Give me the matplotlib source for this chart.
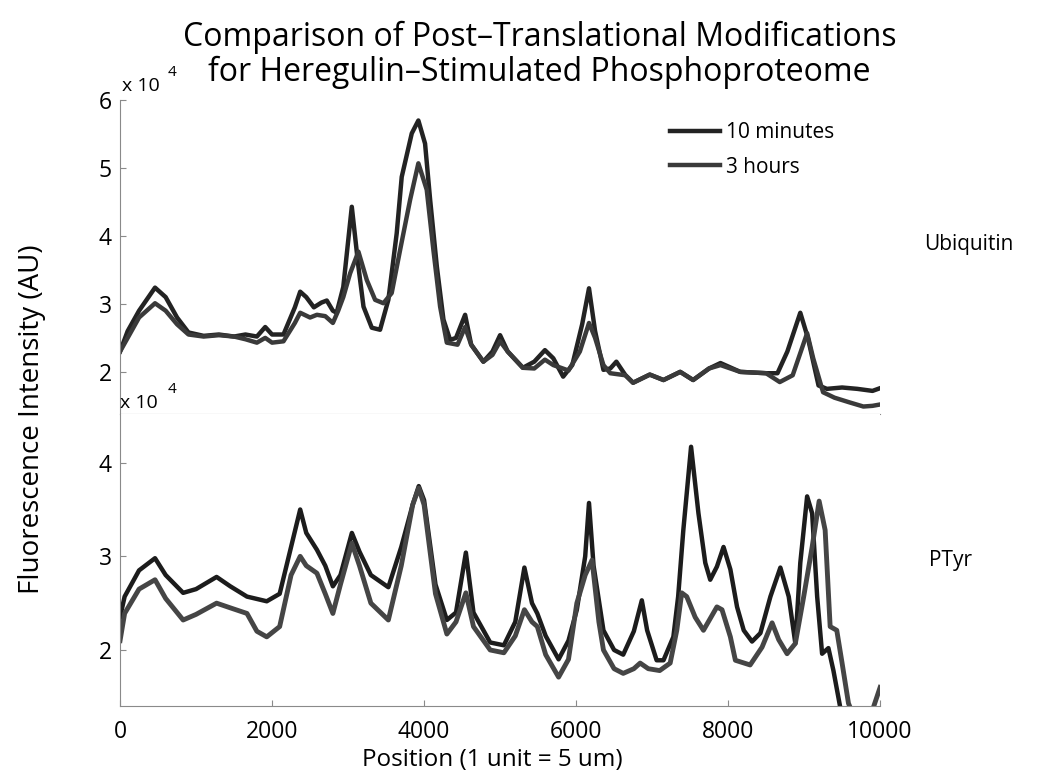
import matplotlib
matplotlib.use('Agg')
import matplotlib.pyplot as plt

plt.rcParams['font.family'] = ['Open Sans', 'DejaVu Sans']

# Ubiquitin panel (values in units of 1e4)
ubi_x_10m = [0, 100, 250, 460, 600, 750, 900, 1100, 1300, 1500, 1650, 1800, 1910, 2000, 2150,
             2300, 2370, 2450, 2550, 2650, 2720, 2800, 2850, 2937, 3049, 3136, 3203, 3312, 3421,
             3530, 3640, 3706, 3838, 3925, 4013, 4080, 4168, 4255, 4343, 4420, 4540, 4620, 4780,
             4900, 5000, 5100, 5300, 5450, 5590, 5700, 5830, 5950, 6080, 6170, 6250, 6360, 6450,
             6530, 6650, 6750, 6970, 7150, 7370, 7540, 7750, 7900, 8160, 8510, 8650, 8780, 8950,
             9050, 9190, 9300, 9500, 9700, 9900, 10000]
ubi_y_10m = [2.30, 2.60, 2.90, 3.24, 3.10, 2.80, 2.58, 2.53, 2.55, 2.52, 2.55, 2.52, 2.66, 2.55, 2.55,
             2.95, 3.18, 3.10, 2.95, 3.02, 3.05, 2.90, 2.87, 3.25, 4.43, 3.55, 2.96, 2.65, 2.62,
             3.06, 4.04, 4.87, 5.51, 5.70, 5.36, 4.53, 3.55, 2.77, 2.47, 2.50, 2.84, 2.40, 2.15,
             2.30, 2.54, 2.30, 2.06, 2.15, 2.32, 2.20, 1.93, 2.10, 2.70, 3.23, 2.60, 2.03, 2.05,
             2.15, 1.95, 1.84, 1.96, 1.88, 2.00, 1.88, 2.05, 2.13, 2.00, 1.98, 1.98, 2.30, 2.87,
             2.50, 1.80, 1.75, 1.77, 1.75, 1.72, 1.76]

ubi_x_3h = [0, 100, 250, 460, 600, 750, 900, 1100, 1300, 1500, 1650, 1800, 1910, 2000, 2150,
            2300, 2370, 2500, 2590, 2700, 2800, 2870, 2937, 3027, 3136, 3247, 3356, 3465, 3574,
            3684, 3816, 3925, 4035, 4123, 4211, 4299, 4440, 4540, 4620, 4780, 4900, 5000, 5100,
            5300, 5450, 5590, 5700, 5900, 6050, 6170, 6250, 6360, 6450, 6650, 6750, 6970, 7150,
            7370, 7540, 7750, 7900, 8160, 8500, 8680, 8850, 9040, 9120, 9250, 9400, 9600, 9780,
            9900, 10000]
ubi_y_3h = [2.30, 2.50, 2.80, 3.01, 2.90, 2.70, 2.55, 2.52, 2.54, 2.52, 2.48, 2.43, 2.50, 2.43, 2.45,
            2.72, 2.87, 2.80, 2.84, 2.82, 2.72, 2.90, 3.10, 3.45, 3.77, 3.35, 3.06, 3.01, 3.16,
            3.79, 4.53, 5.07, 4.68, 3.79, 2.96, 2.43, 2.40, 2.66, 2.40, 2.15, 2.25, 2.45, 2.30,
            2.06, 2.05, 2.18, 2.10, 2.02, 2.30, 2.72, 2.50, 2.10, 1.98, 1.95, 1.84, 1.96, 1.88,
            2.00, 1.88, 2.05, 2.10, 2.00, 1.98, 1.85, 1.95, 2.57, 2.20, 1.70, 1.62, 1.55, 1.49,
            1.50, 1.52]

# PTyr panel (values in units of 1e4)
pty_x_10m = [0, 60, 250, 460, 600, 830, 1000, 1270, 1450, 1670, 1930, 2100, 2250, 2370, 2450,
             2590, 2700, 2800, 2900, 3050, 3150, 3300, 3530, 3700, 3850, 3930, 4000, 4150, 4300,
             4420, 4550, 4650, 4870, 5050, 5200, 5320, 5420, 5490, 5600, 5770, 5900, 6010, 6120,
             6170, 6230, 6360, 6500, 6620, 6760, 6865, 6935, 7060, 7150, 7280, 7343, 7411, 7513,
             7610, 7700, 7765, 7853, 7940, 8030, 8118, 8206, 8315, 8425, 8557, 8688, 8798, 8885,
             8950, 9040, 9106, 9172, 9237, 9320, 9386, 9475, 9600]
pty_y_10m = [2.35, 2.57, 2.85, 2.98, 2.80, 2.61, 2.65, 2.78, 2.68, 2.57, 2.52, 2.60, 3.10, 3.50, 3.25,
             3.07, 2.90, 2.68, 2.80, 3.25, 3.05, 2.80, 2.67, 3.10, 3.55, 3.75, 3.60, 2.70, 2.32,
             2.40, 3.04, 2.40, 2.08, 2.05, 2.30, 2.88, 2.50, 2.39, 2.15, 1.90, 2.10, 2.43, 3.00,
             3.57, 2.90, 2.21, 2.00, 1.95, 2.20, 2.53, 2.21, 1.89, 1.89, 2.14, 2.57, 3.28, 4.17,
             3.46, 2.93, 2.75, 2.89, 3.10, 2.86, 2.46, 2.21, 2.09, 2.18, 2.57, 2.88, 2.57, 2.07,
             2.93, 3.64, 3.46, 2.57, 1.96, 2.02, 1.78, 1.39, 1.20]

pty_x_3h = [0, 60, 250, 460, 600, 830, 1000, 1270, 1450, 1670, 1800, 1930, 2100, 2250, 2370,
            2450, 2590, 2700, 2800, 2900, 3050, 3150, 3300, 3530, 3700, 3850, 3930, 4000, 4150,
            4300, 4420, 4550, 4650, 4870, 5050, 5200, 5320, 5420, 5490, 5600, 5770, 5900, 6010,
            6120, 6210, 6300, 6360, 6500, 6620, 6760, 6843, 6950, 7100, 7238, 7325, 7390, 7456,
            7567, 7676, 7853, 7920, 8030, 8096, 8290, 8447, 8579, 8666, 8776, 8885, 8995, 9106,
            9198, 9277, 9343, 9430, 9500, 9584, 9700, 9850, 9913, 10000]
pty_y_3h = [2.10, 2.39, 2.65, 2.75, 2.55, 2.32, 2.38, 2.50, 2.45, 2.39, 2.20, 2.14, 2.25, 2.80, 3.00,
            2.90, 2.82, 2.60, 2.39, 2.70, 3.14, 2.90, 2.50, 2.32, 2.90, 3.55, 3.73, 3.55, 2.60,
            2.17, 2.30, 2.61, 2.25, 2.00, 1.97, 2.15, 2.43, 2.30, 2.25, 1.95, 1.71, 1.90, 2.50,
            2.80, 2.96, 2.30, 2.00, 1.80, 1.75, 1.80, 1.86, 1.80, 1.78, 1.86, 2.21, 2.61, 2.57,
            2.35, 2.21, 2.46, 2.43, 2.14, 1.89, 1.84, 2.03, 2.29, 2.11, 1.96, 2.07, 2.57, 3.10,
            3.59, 3.28, 2.25, 2.21, 1.86, 1.43, 1.20, 1.20, 1.39, 1.60]

x_ticks = [0, 2000, 4000, 6000, 8000, 10000]
labels = ['10 minutes', '3 hours']

fig = plt.figure(figsize=(10.44, 7.76), dpi=100)
ax1 = fig.add_axes([0.115, 0.4665, 0.728, 0.4045])
ax2 = fig.add_axes([0.115, 0.090, 0.728, 0.3765])

ax1.plot(ubi_x_10m, ubi_y_10m, color='#232323', lw=3.2, label=labels[0])
ax1.plot(ubi_x_3h, ubi_y_3h, color='#3a3a3a', lw=3.2, label=labels[1])
ax2.plot(pty_x_10m, pty_y_10m, color='#1c1c1c', lw=3.2)
ax2.plot(pty_x_3h, pty_y_3h, color='#454545', lw=3.5)

ax1.set_ylim(1.38, 6.0)
ax2.set_ylim(1.40, 4.52)
for ax in (ax1, ax2):
    ax.set_xlim(0, 10000)
    ax.spines['top'].set_visible(False)
    ax.spines['right'].set_visible(False)
    ax.spines['left'].set_color('#8a8a8a')
    ax.spines['bottom'].set_color('#8a8a8a')
    ax.tick_params(direction='in', length=4, color='#8a8a8a', labelsize=16.5, pad=6)

ax1.set_yticks([2, 3, 4, 5, 6])
ax1.set_xticks([])
ax2.set_yticks([2, 3, 4])
ax2.set_xticks(x_ticks)
ax2.tick_params(axis='x', pad=10)

# exponent labels
ax1.text(0.003, 1.015, 'x 10', transform=ax1.transAxes, fontsize=14, ha='left', va='bottom')
ax1.text(0.063, 1.065, '4', transform=ax1.transAxes, fontsize=11, ha='left', va='bottom')
ax1.text(0.0, 0.005, 'x 10', transform=ax1.transAxes, fontsize=14, ha='left', va='bottom')
ax1.text(0.063, 0.055, '4', transform=ax1.transAxes, fontsize=11, ha='left', va='bottom')

ax1.legend(loc='upper right', bbox_to_anchor=(0.965, 0.99), frameon=False, fontsize=15,
           handlelength=2.4, handletextpad=0.3, labelspacing=0.65)

fig.text(0.885, 0.685, 'Ubiquitin', fontsize=15, ha='left', va='center')
fig.text(0.890, 0.278, 'PTyr', fontsize=15, ha='left', va='center')

fig.text(0.517, 0.929, 'Comparison of Post\u2013Translational Modifications\nfor Heregulin\u2013Stimulated Phosphoproteome',
         fontsize=23, ha='center', va='center', linespacing=1.07)
fig.text(0.031, 0.46, 'Fluorescence Intensity (AU)', fontsize=20, rotation=90, ha='center', va='center')
fig.text(0.472, 0.021, 'Position (1 unit = 5 um)', fontsize=17.5, ha='center', va='center')

fig.savefig('out.png', dpi=100)
